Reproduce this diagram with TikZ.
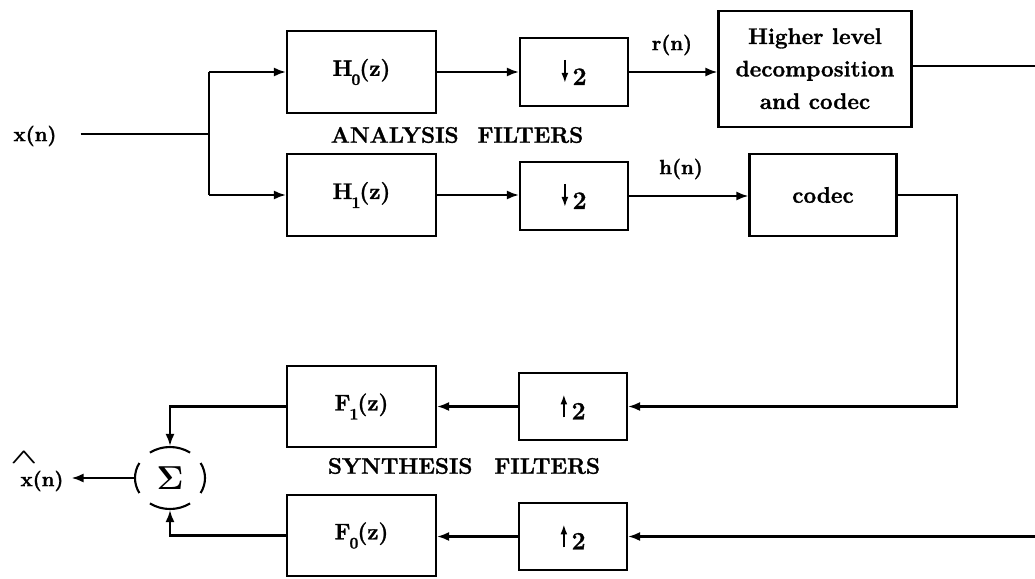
\documentclass[tikz,border=0pt]{standalone}
\usepackage[no-math]{fontspec}
\setmainfont{Latin Modern Roman}[BoldFeatures={FakeBold=1.3}]
\usetikzlibrary{arrows.meta,shapes.geometric}

% small filled arrows used inside the rate-change blocks
\newcommand\dnar{\tikz[baseline=-2pt]\draw[line width=1.8pt,-{Latex[length=10pt,width=7pt]}] (0pt,23pt)--(0pt,0pt);}
\newcommand\upar{\tikz[baseline=-2pt]\draw[line width=1.8pt,-{Latex[length=10pt,width=7pt]}] (0pt,0pt)--(0pt,23pt);}
% deep subscript index for the filter names
\newcommand\lowidx[1]{\kern-1pt\raisebox{-9pt}{\fontsize{16}{16}\selectfont#1}\kern-1pt}

\begin{document}
\begin{tikzpicture}[x=1pt,y=-1pt,line width=2.1pt,
  blk/.style={draw,line width=2.1pt,inner sep=0pt,align=center,
              font=\fontsize{22.5}{27}\selectfont\bfseries},
  rate/.style={blk,font=\fontsize{25}{28}\selectfont\bfseries},
  bigtext/.style={font=\fontsize{22.5}{32.5}\selectfont\bfseries},
  lbl/.style={inner sep=0pt,font=\fontsize{20.5}{24}\selectfont\bfseries},
  head/.style={inner sep=0pt,font=\fontsize{22.5}{27}\selectfont\bfseries},
  sig/.style={-{Latex[length=12pt,width=9pt]}}]
\useasboundingbox (0,0) rectangle (1035,578);

% analysis bank
\node[blk,minimum width=149pt,minimum height=82pt] (H0) at (361.5,72) {H\lowidx{0}(z)};
\node[blk,minimum width=149pt,minimum height=82pt] (H1) at (361.5,195) {H\lowidx{1}(z)};
\node[rate,minimum width=108pt,minimum height=68pt] (D0) at (574,72) {\dnar\,2};
\node[rate,minimum width=108pt,minimum height=68pt] (D1) at (574,196) {\dnar\,2};
\node[blk,bigtext,minimum width=193pt,minimum height=116pt] (HL) at (815,68.7)
  {Higher level\\decomposition\\and codec};
\node[blk,bigtext,minimum width=147pt,minimum height=82pt] (codec) at (823,195) {codec};

% synthesis bank
\node[blk,minimum width=149pt,minimum height=81pt] (F1) at (361.5,406.5) {F\lowidx{1}(z)};
\node[blk,minimum width=149pt,minimum height=81pt] (F0) at (361.5,535.5) {F\lowidx{0}(z)};
\node[rate,minimum width=108pt,minimum height=67pt] (U1) at (573,406.5) {\upar\,2};
\node[rate,minimum width=108pt,minimum height=67pt] (U0) at (573,536.5) {\upar\,2};

% summing junction
\node[ellipse,minimum width=70pt,minimum height=62pt,inner sep=0pt,
      font=\fontsize{20}{24}\selectfont] (sum) at (170,478) {\scalebox{1.6}{$\mathbf{\Sigma}$}};
\draw (sum.center) ++(151:35 and 31) arc[start angle=151,end angle=209,x radius=35,y radius=31];
\draw (sum.center) ++(-29:35 and 31) arc[start angle=-29,end angle=29,x radius=35,y radius=31];
\draw (sum.center) ++(55:35 and 31) arc[start angle=55,end angle=125,x radius=35,y radius=31];
\draw (sum.center) ++(235:35 and 31) arc[start angle=235,end angle=305,x radius=35,y radius=31];

% signal labels
\node[lbl] (xin) at (35,136) {x(n)};
\node[lbl] (rn) at (672,45) {r(n)};
\node[lbl] (hn) at (681,169) {h(n)};
\node[lbl] (xhat) at (42,481) {x(n)};
\node[inner sep=0pt,font=\fontsize{20}{20}\selectfont\boldmath] (hat) at (24,458) {\scalebox{1.7}[1.0]{$\wedge$}};
\node[head] (ana) at (457,135) {ANALYSIS\hspace{19pt}FILTERS};
\node[head] (syn) at (464,466) {SYNTHESIS\hspace{22pt}FILTERS};

% connection points
\coordinate (split) at (209,134);
\coordinate (rtop) at (1035,66);
\coordinate (cbend) at (957,406.5);
\coordinate (rbot) at (1035,536.5);

% analysis wiring
\draw ([xshift=23pt]xin.east |- split) -- (split);
\draw (split |- H0.west) -- (split |- H1.west);
\draw[sig] (split |- H0.west) -- (H0.west);
\draw[sig] (split |- H1.west) -- (H1.west);
\draw[sig] (H0.east) -- (H0.east -| D0.west);
\draw[sig] (H1.east) -- (H1.east -| D1.west);
\draw[sig] (D0.east) -- (D0.east -| HL.west);
\draw[sig] (D1.east) -- (D1.east -| codec.west);
\draw (HL.east |- rtop) -- (rtop);

% synthesis wiring
\draw[sig] (codec.east) -| (cbend) -- (U1.east);
\draw[sig] (rbot) -- (U0.east);
\draw[sig] (U1.west) -- (U1.west -| F1.east);
\draw[sig] (U0.west) -- (U0.west -| F0.east);
\draw[sig] (F1.west) -| (sum.north);
\draw[sig] (F0.west) -| (sum.south);
\draw[sig] (sum.west) -- ([xshift=7pt]sum.west -| xhat.east);
\end{tikzpicture}
\end{document}
